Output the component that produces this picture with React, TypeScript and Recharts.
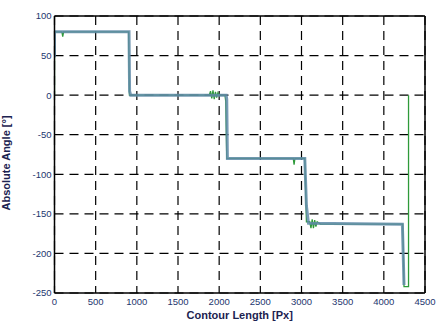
import { LineChart, Line, XAxis, YAxis, CartesianGrid, ReferenceLine } from "recharts"

// smoothed contour (blue) and raw contour (green)
const smoothLength = [0, 0, 905, 912, 925, 2085, 2092, 2100, 3040, 3060, 3085, 4225, 4235, 4245]
const smoothAngle = [48, 80, 80, 5, 0, 0, -5, -80, -80, -140, -162, -163, -200, -240]

const rawLength = [
  0, 0, 90, 100, 110, 900, 910, 1880, 1895, 1910, 1925, 1940, 1955, 1970, 1985, 2000, 2070, 2080,
  2092, 2900, 2910, 2920, 3040, 3060, 3100, 3115, 3130, 3145, 3160, 3175, 3190, 3230, 4230, 4245,
  4300, 4300,
]
const rawAngle = [
  0, 80, 80, 74, 80, 80, 0, 0, 5, -4, 6, -5, 4, -3, 3, 0, 0, -8, -80, -80, -88, -80, -80, -160,
  -160, -168, -157, -168, -158, -166, -160, -163, -163, -242, -242, 0,
]

const xTicks = [0, 500, 1000, 1500, 2000, 2500, 3000, 3500, 4000, 4500]
const yTicks = [-250, -200, -150, -100, -50, 0, 50, 100]

const smoothData = smoothLength.map((x, i) => ({ x, y: smoothAngle[i] }))
const rawData = rawLength.map((x, i) => ({ x, y: rawAngle[i] }))

const tickStyle = { fontSize: 9.5, fill: "#24366e", fontFamily: "Liberation Sans, Arial, sans-serif" }
const labelStyle = {
  fontSize: 11,
  fontWeight: 700,
  fill: "#1c2250",
  fontFamily: "Liberation Sans, Arial, sans-serif",
}

export default function App() {
  return (
    <div style={{ position: "absolute", left: 0, top: 0, background: "#fff" }}>
      <LineChart width={441} height={325} margin={{ top: 16, right: 16, bottom: 0, left: 0 }}>
        <CartesianGrid stroke="#000" strokeWidth={1.2} strokeDasharray="9 6" />
        <XAxis
          type="number"
          dataKey="x"
          domain={[0, 4500]}
          ticks={xTicks}
          interval={0}
          allowDataOverflow
          tick={{ ...tickStyle, dy: -3 }}
          tickLine={false}
          tickMargin={2}
          axisLine={{ stroke: "#000", strokeWidth: 1.5 }}
          height={32}
          label={{ value: "Contour Length [Px]", position: "insideBottom", offset: 6, style: labelStyle }}
        />
        <YAxis
          type="number"
          dataKey="y"
          domain={[-250, 100]}
          ticks={yTicks}
          interval={0}
          allowDataOverflow
          tick={{ ...tickStyle, dx: 4 }}
          tickLine={false}
          tickMargin={1}
          axisLine={{ stroke: "#000", strokeWidth: 1.5 }}
          width={54.5}
          label={{ value: "Absolute Angle [°]", angle: -90, position: "insideLeft", offset: 6, dy: 56, style: labelStyle }}
        />
        <ReferenceLine y={100} stroke="#000" strokeWidth={1.5} />
        <ReferenceLine x={4500} stroke="#000" strokeWidth={1.5} />
        <Line
          data={rawData}
          dataKey="y"
          type="linear"
          stroke="#2e9a3a"
          strokeWidth={1.3}
          dot={false}
          isAnimationActive={false}
        />
        <Line
          data={smoothData}
          dataKey="y"
          type="linear"
          stroke="#5f8aa8"
          strokeOpacity={0.85}
          strokeWidth={3}
          dot={false}
          isAnimationActive={false}
        />
      </LineChart>
    </div>
  )
}
